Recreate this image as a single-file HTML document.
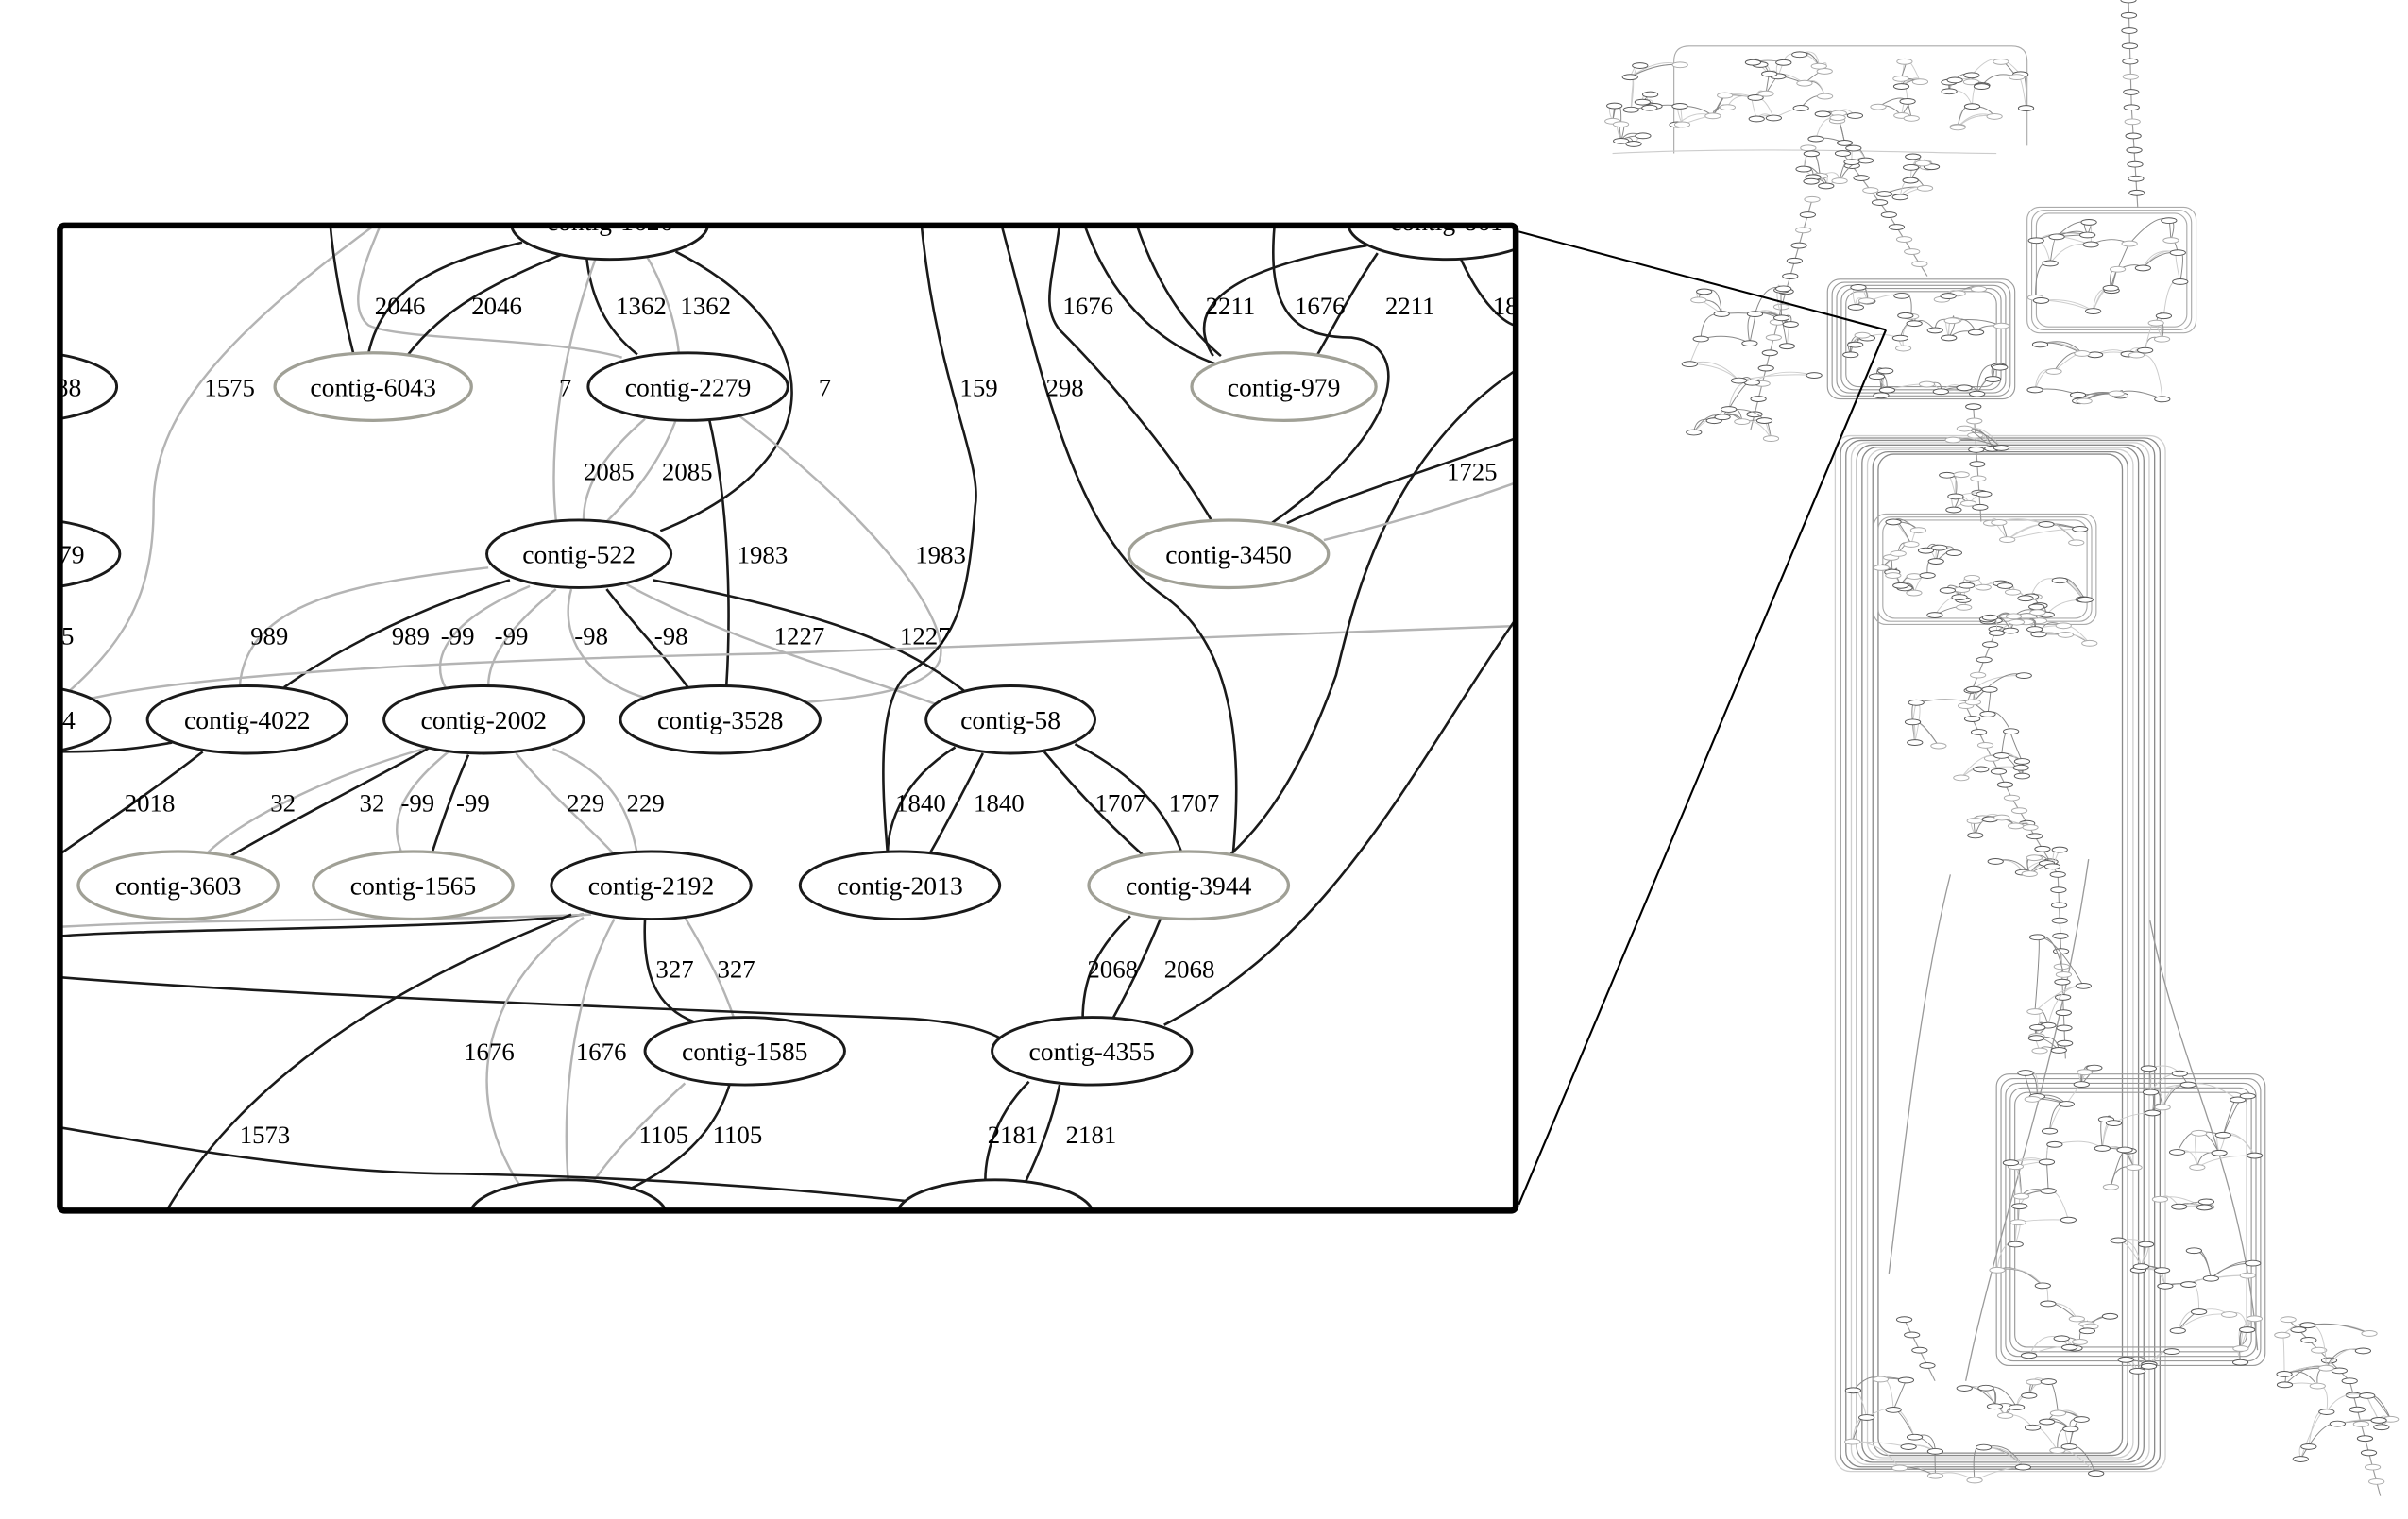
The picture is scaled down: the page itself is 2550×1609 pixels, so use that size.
<!DOCTYPE html>
<html><head><meta charset="utf-8"><style>
html,body{margin:0;padding:0;background:#fff;}
svg{display:block;}
text{font-family:"Liberation Serif",serif;}
.b{fill:none;stroke:#1a1a1a;stroke-width:1.6}
.g{fill:none;stroke:#b4b4b4;stroke-width:1.5}
.nb{fill:#fff;stroke:#1a1a1a;stroke-width:1.8}
.ng{fill:#fff;stroke:#a0a096;stroke-width:2}
.lb{font-size:16.5px;fill:#000}
.nt{font-size:17px;fill:#000;text-anchor:middle}
</style></head><body>
<svg id="s" width="2550" height="1609" viewBox="0 0 1568 990" preserveAspectRatio="none" xmlns="http://www.w3.org/2000/svg">
<defs><clipPath id="c"><rect x="40" y="148" width="946" height="640"/></clipPath></defs>
<g id="thumb"></g>
<g clip-path="url(#c)">
<path class="g" d="M245,146 C130,230 100,280 100,330 C100,390 80,420 40,455"/>
<path class="b" d="M215,146 C218,180 225,210 230,230"/>
<path class="g" d="M248,146 C238,170 225,200 240,212 C260,222 360,220 405,233"/>
<path class="b" d="M340,158 C290,170 250,185 240,230"/>
<path class="b" d="M370,164 C320,185 290,200 265,232"/>
<path class="b" d="M382,168 C385,195 395,215 415,231"/>
<path class="g" d="M420,165 C432,185 440,210 442,230"/>
<path class="g" d="M388,168 C362,240 358,300 362,339"/>
<path class="b" d="M440,164 C540,215 545,300 430,346"/>
<path class="g" d="M420,273 C395,295 380,315 380,339"/>
<path class="g" d="M440,274 C430,300 415,320 395,340"/>
<path class="b" d="M462,274 C475,330 476,400 473,447"/>
<path class="g" d="M480,270 C560,330 620,400 612,430 C605,450 560,455 520,458"/>
<path class="b" d="M332,378 C260,400 210,430 185,448"/>
<path class="g" d="M318,370 C230,380 160,392 156,448"/>
<path class="g" d="M345,382 C290,405 280,430 290,448"/>
<path class="g" d="M362,384 C330,410 318,430 318,447"/>
<path class="g" d="M372,384 C362,420 390,450 430,457"/>
<path class="b" d="M395,384 C415,410 435,430 448,448"/>
<path class="g" d="M408,381 C480,420 560,440 612,460"/>
<path class="b" d="M425,378 C540,400 590,420 630,452"/>
<path class="g" d="M42,460 C100,440 300,430 500,426 L986,408"/>
<path class="b" d="M40,490 C80,490 100,486 112,484"/>
<path class="b" d="M132,490 C100,515 70,535 40,556"/>
<path class="g" d="M276,488 C200,510 150,540 134,557"/>
<path class="b" d="M282,486 C230,515 180,540 150,558"/>
<path class="g" d="M292,490 C255,520 255,540 262,557"/>
<path class="b" d="M305,492 C295,515 288,535 281,557"/>
<path class="g" d="M336,491 C360,520 385,540 400,557"/>
<path class="g" d="M360,488 C400,505 410,530 415,557"/>
<path class="b" d="M622,487 C585,510 578,540 578,557"/>
<path class="b" d="M640,491 C625,520 615,540 605,557"/>
<path class="b" d="M680,490 C705,520 725,540 745,558"/>
<path class="b" d="M700,485 C740,505 760,530 770,557"/>
<path class="b" d="M600,146 C610,250 640,300 635,330 C630,400 620,420 590,440 C570,460 575,520 578,557"/>
<path class="b" d="M652,146 C680,250 700,350 760,390 C800,420 810,480 803,556"/>
<path class="b" d="M706,146 C725,200 760,228 800,240"/>
<path class="b" d="M690,146 C685,185 678,200 690,215 C715,240 760,290 790,341"/>
<path class="b" d="M740,146 C755,190 775,215 795,232"/>
<path class="b" d="M890,160 C800,175 770,200 790,232"/>
<path class="b" d="M897,165 C880,190 870,210 858,231"/>
<path class="b" d="M830,146 C825,200 840,220 880,220 C920,225 915,280 828,341"/>
<path class="b" d="M950,166 C965,200 980,210 986,212"/>
<path class="b" d="M986,242 C900,300 880,400 870,440 C845,510 820,540 800,558"/>
<path class="b" d="M986,286 C920,310 870,325 838,341"/>
<path class="g" d="M986,315 C930,335 890,345 862,352"/>
<path class="b" d="M736,597 C712,620 705,640 705,665"/>
<path class="b" d="M756,598 C745,625 735,645 724,665"/>
<path class="b" d="M986,405 C920,500 870,610 758,668"/>
<path class="b" d="M420,599 C418,640 430,660 458,668"/>
<path class="g" d="M446,598 C462,625 472,645 478,664"/>
<path class="b" d="M40,610 C100,605 300,606 380,596"/>
<path class="g" d="M40,604 C150,598 300,600 385,596"/>
<path class="b" d="M40,637 C200,650 500,660 595,664 C620,666 640,670 652,677"/>
<path class="b" d="M372,596 C260,640 160,700 108,790"/>
<path class="g" d="M380,598 C330,630 290,700 340,775"/>
<path class="g" d="M400,599 C372,650 366,720 370,770"/>
<path class="g" d="M446,706 C420,730 400,750 385,772"/>
<path class="b" d="M475,707 C465,740 440,760 410,775"/>
<path class="b" d="M670,705 C645,730 640,760 642,775"/>
<path class="b" d="M690,707 C684,735 675,755 667,772"/>
<path class="b" d="M40,735 C100,745 200,765 300,765 C450,768 550,778 620,786"/>
<ellipse class="nb" cx="397" cy="146" rx="64" ry="23"/>
<ellipse class="nb" cx="942" cy="146" rx="64" ry="23"/>
<ellipse class="nb" cx="12" cy="252" rx="64" ry="23"/>
<ellipse class="nb" cx="14" cy="361" rx="64" ry="23"/>
<ellipse class="nb" cx="8" cy="469" rx="64" ry="23"/>
<ellipse class="nb" cx="370" cy="792" rx="64" ry="23"/>
<ellipse class="nb" cx="648" cy="792" rx="64" ry="23"/>
<text class="nt" x="397" y="150">contig-1626</text>
<text class="nt" x="942" y="150">contig-861</text>
<text class="nt" x="12" y="258">contig-3388</text>
<text class="nt" x="14" y="367">contig-2879</text>
<text class="nt" x="8" y="475">contig-4444</text>
<ellipse class="ng" cx="243" cy="252" rx="64" ry="22"/><text class="nt" x="243" y="258">contig-6043</text>
<ellipse class="nb" cx="448" cy="252" rx="65" ry="22"/><text class="nt" x="448" y="258">contig-2279</text>
<ellipse class="ng" cx="836" cy="252" rx="60" ry="22"/><text class="nt" x="836" y="258">contig-979</text>
<ellipse class="nb" cx="377" cy="361" rx="60" ry="22"/><text class="nt" x="377" y="367">contig-522</text>
<ellipse class="ng" cx="800" cy="361" rx="65" ry="22"/><text class="nt" x="800" y="367">contig-3450</text>
<ellipse class="nb" cx="161" cy="469" rx="65" ry="22"/><text class="nt" x="161" y="475">contig-4022</text>
<ellipse class="nb" cx="315" cy="469" rx="65" ry="22"/><text class="nt" x="315" y="475">contig-2002</text>
<ellipse class="nb" cx="469" cy="469" rx="65" ry="22"/><text class="nt" x="469" y="475">contig-3528</text>
<ellipse class="nb" cx="658" cy="469" rx="55" ry="22"/><text class="nt" x="658" y="475">contig-58</text>
<ellipse class="ng" cx="116" cy="577" rx="65" ry="22"/><text class="nt" x="116" y="583">contig-3603</text>
<ellipse class="ng" cx="269" cy="577" rx="65" ry="22"/><text class="nt" x="269" y="583">contig-1565</text>
<ellipse class="nb" cx="424" cy="577" rx="65" ry="22"/><text class="nt" x="424" y="583">contig-2192</text>
<ellipse class="nb" cx="586" cy="577" rx="65" ry="22"/><text class="nt" x="586" y="583">contig-2013</text>
<ellipse class="ng" cx="774" cy="577" rx="65" ry="22"/><text class="nt" x="774" y="583">contig-3944</text>
<ellipse class="nb" cx="485" cy="685" rx="65" ry="22"/><text class="nt" x="485" y="691">contig-1585</text>
<ellipse class="nb" cx="711" cy="685" rx="65" ry="22"/><text class="nt" x="711" y="691">contig-4355</text>
<g class="lb">
<text x="244" y="205">2046</text><text x="307" y="205">2046</text>
<text x="401" y="205">1362</text><text x="443" y="205">1362</text>
<text x="692" y="205">1676</text><text x="785" y="205">2211</text><text x="843" y="205">1676</text><text x="902" y="205">2211</text><text x="972" y="205">18</text>
<text x="133" y="258">1575</text><text x="364" y="258">7</text><text x="533" y="258">7</text><text x="625" y="258">159</text><text x="681" y="258">298</text>
<text x="380" y="313">2085</text><text x="431" y="313">2085</text><text x="942" y="313">1725</text>
<text x="480" y="367">1983</text><text x="596" y="367">1983</text>
<text x="40" y="420">5</text><text x="163" y="420">989</text><text x="255" y="420">989</text><text x="287" y="420">-99</text><text x="322" y="420">-99</text><text x="374" y="420">-98</text><text x="426" y="420">-98</text><text x="504" y="420">1227</text><text x="586" y="420">1227</text>
<text x="81" y="529">2018</text><text x="176" y="529">32</text><text x="234" y="529">32</text><text x="261" y="529">-99</text><text x="297" y="529">-99</text><text x="369" y="529">229</text><text x="408" y="529">229</text><text x="583" y="529">1840</text><text x="634" y="529">1840</text><text x="713" y="529">1707</text><text x="761" y="529">1707</text>
<text x="427" y="637">327</text><text x="467" y="637">327</text><text x="708" y="637">2068</text><text x="758" y="637">2068</text>
<text x="302" y="691">1676</text><text x="375" y="691">1676</text>
<text x="156" y="745">1573</text><text x="416" y="745">1105</text><text x="464" y="745">1105</text><text x="643" y="745">2181</text><text x="694" y="745">2181</text>
</g>
</g>
<rect x="39" y="147" width="948" height="642" rx="3" fill="none" stroke="#000" stroke-width="4"/>
<line x1="989" y1="151" x2="1228" y2="215" stroke="#000" stroke-width="1.3"/>
<line x1="989" y1="785" x2="1228" y2="215" stroke="#000" stroke-width="1.3"/>
</svg>
<script>
(function(){
var g=document.getElementById('thumb'),ns='http://www.w3.org/2000/svg',s=12345;
function r(){s=(s*1103515245+12345)%2147483648;return s/2147483648;}
function el(t,a){var e=document.createElementNS(ns,t);for(var k in a)e.setAttribute(k,a[k]);g.appendChild(e);return e;}
for(var i=0;i<9;i++){el('rect',{x:1195+i*3.5,y:284+i*1.5,width:215-i*7,height:675-i*3,rx:10,fill:'none',stroke:i%3?'#8a8a8a':'#cfcfcf','stroke-width':0.8});}
for(var i=0;i<5;i++){el('rect',{x:1190+i*3,y:182+i*2,width:122-i*6,height:78-i*4,rx:8,fill:'none',stroke:'#999','stroke-width':0.7});}
for(var i=0;i<3;i++){el('rect',{x:1320+i*3,y:135+i*2,width:110-i*6,height:82-i*4,rx:8,fill:'none',stroke:'#aaa','stroke-width':0.7});}
for(var i=0;i<3;i++){el('rect',{x:1220+i*3,y:335+i*2,width:145-i*6,height:72-i*4,rx:8,fill:'none',stroke:'#aaa','stroke-width':0.7});}
for(var i=0;i<5;i++){el('rect',{x:1300+i*3,y:700+i*3,width:175-i*6,height:190-i*6,rx:8,fill:'none',stroke:'#999','stroke-width':0.7});}
el('path',{d:'M1090,100 L1090,40 Q1090,30 1100,30 L1310,30 Q1320,30 1320,40 L1320,95',fill:'none',stroke:'#aaa','stroke-width':0.7});
el('path',{d:'M1050,100 C1150,95 1250,100 1300,100',fill:'none',stroke:'#ccc','stroke-width':0.7});
el('path',{d:'M1270,570 C1250,650 1240,750 1230,830 M1360,560 C1340,700 1300,800 1280,900 M1400,600 C1420,700 1460,760 1470,880',fill:'none',stroke:'#999','stroke-width':0.8});
function node(x,y){el('ellipse',{cx:x,cy:y,rx:5,ry:1.8,fill:'#fff',stroke:r()<.7?'#555':'#aaa','stroke-width':0.6});}
var chains=[[[1200,100],[1230,140],[1255,180]],[[1180,130],[1160,200],[1140,280]],[[1285,265],[1290,340]],[[1300,410],[1280,460],[1310,520],[1340,570],[1345,690]],[[1386,0],[1388,70],[1392,135]],[[1240,860],[1260,900]],[[1490,860],[1530,900],[1550,975]]];
chains.forEach(function(ch){var d='M'+ch[0][0]+','+ch[0][1];for(var k=1;k<ch.length;k++)d+=' L'+ch[k][0]+','+ch[k][1];
 el('path',{d:d,fill:'none',stroke:'#999','stroke-width':0.7});
 for(var k=1;k<ch.length;k++){var a=ch[k-1],b=ch[k],n=Math.max(2,Math.round(Math.hypot(b[0]-a[0],b[1]-a[1])/10));for(var t=0;t<n;t++){node(a[0]+(b[0]-a[0])*t/n,a[1]+(b[1]-a[1])*t/n);}}});
var C=[[1060,35,1320,95,55],[1050,60,1100,100,10],[1160,95,1260,130,20],[1100,180,1190,290,22],[1195,185,1305,258,35],[1325,140,1425,265,35],[1225,340,1360,405,50],[1290,400,1370,420,10],[1245,440,1320,510,16],[1280,510,1345,570,14],[1325,600,1360,690,10],[1265,270,1310,335,10],[1300,690,1475,895,80],[1205,890,1365,965,30],[1480,860,1560,970,16]];
C.forEach(function(c){var pts=[];for(var i=0;i<c[4];i++){pts.push([c[0]+r()*(c[2]-c[0]),c[1]+r()*(c[3]-c[1])]);}
 for(var i=0;i<pts.length;i++){var a=pts[i];var ds=pts.map(function(p,j){return [Math.hypot(p[0]-a[0],(p[1]-a[1])*1.5),j];}).sort(function(x,y){return x[0]-y[0];});
  for(var q=1;q<=2;q++){var b=pts[ds[Math.min(q+Math.floor(r()*2),ds.length-1)][1]];var mx=(a[0]+b[0])/2+(r()-.5)*12,my=Math.min(a[1],b[1])-r()*6;
  el('path',{d:'M'+a[0]+','+a[1]+' Q'+mx+','+my+' '+b[0]+','+b[1],fill:'none',stroke:r()<.5?'#888':'#ccc','stroke-width':0.6});}}
 pts.forEach(function(p){node(p[0],p[1]);});});
})();
</script>
</body></html>
